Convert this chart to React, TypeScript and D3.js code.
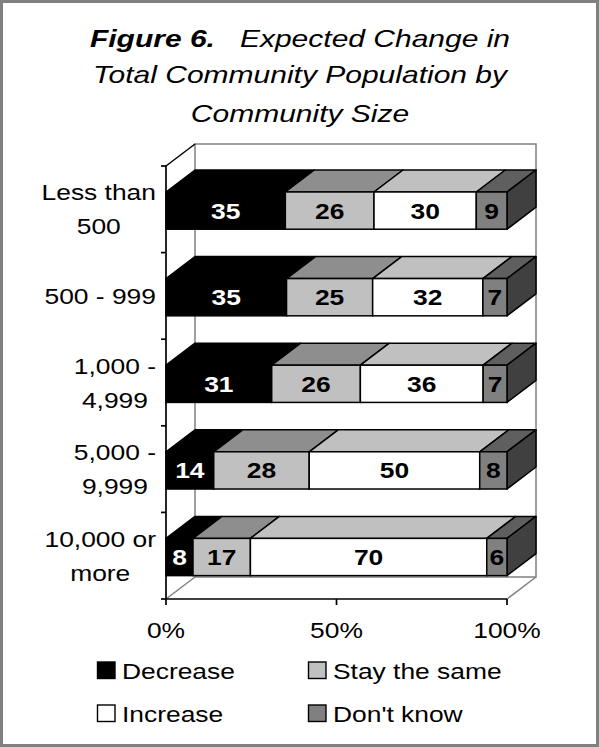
import React from "react";
import * as d3 from "d3";

const categories = ["Less than\n500", "500 - 999", "1,000 -\n4,999", "5,000 -\n9,999", "10,000 or\nmore"];
const seriesNames = ["Decrease", "Stay the same", "Increase", "Don't know"];
const decrease = [35, 35, 31, 14, 8];
const staySame = [26, 25, 26, 28, 17];
const increase = [30, 32, 36, 50, 70];
const dontKnow = [9, 7, 7, 8, 6];
const xTickValues = [0, 0.5, 1];
const xTickLabels = ["0%", "50%", "100%"];
const titleLines = ["Expected Change in", "Total Community Population by", "Community Size"];

const frontColors = ["#000000", "#c0c0c0", "#ffffff", "#808080"];
const topColors = ["#000000", "#8e8e8e", "#c0c0c0", "#5f5f5f"];
const sideColors = ["#000000", "#8e8e8e", "#a0a0a0", "#404040"];
const labelColors = ["#ffffff", "#000000", "#000000", "#000000"];

const W = 599;
const H = 747;
const FONT = "'Liberation Sans', Arial, sans-serif";
const SX = 1.2;
const DX = 29;
const DY = 22;
const SW = 1.5;

function measure(text: string, size: number, weight = "normal") {
  const c = document.createElement("canvas");
  const ctx = c.getContext("2d");
  if (!ctx) return text.length * size * 0.55;
  ctx.font = `${weight} ${size}px 'Liberation Sans', Arial, sans-serif`;
  return ctx.measureText(text).width;
}

function T({ x, y, anchor = "start", size = 22, sx = SX, weight = "normal", fill = "#000", style = "normal", children }: any) {
  return (
    <text
      transform={`translate(${x},${y}) scale(${sx},1)`}
      textAnchor={anchor}
      fontFamily={FONT}
      fontSize={size}
      fontWeight={weight}
      fontStyle={style}
      fill={fill}
      style={{ whiteSpace: "pre" }}
    >
      {children}
    </text>
  );
}

export default function App() {
  const rows = categories.map((c, i) => ({
    cat: c,
    [seriesNames[0]]: decrease[i],
    [seriesNames[1]]: staySame[i],
    [seriesNames[2]]: increase[i],
    [seriesNames[3]]: dontKnow[i],
  }));
  const stacked = d3.stack<any>().keys(seriesNames).offset(d3.stackOffsetExpand)(rows);

  const x = d3.scaleLinear().domain([0, 1]).range([166, 507]);
  const y = d3.scaleBand<string>().domain(categories).range([166, 599]).padding(0);
  const bw = y.bandwidth();
  const frontTop = (c: string) => (y(c) as number) + bw * 0.3;
  const barH = bw * 0.43;

  const x0 = x(0), x1 = x(1);
  const yTop = y.range()[0], yBot = y.range()[1];

  return (
    <svg width={W} height={H} style={{ position: "absolute", left: 0, top: 0, background: "#fff" }}>
      <rect x={1.5} y={1.5} width={W - 3} height={H - 3} fill="#fff" stroke="#808080" strokeWidth={3} />

      {/* Title */}
      <text
        transform={`translate(300,46.7) scale(1.25,1)`}
        textAnchor="middle"
        fontFamily={FONT}
        fontSize={24}
        fontStyle="italic"
        style={{ whiteSpace: "pre" }}
      >
        <tspan fontWeight="bold">Figure 6.</tspan>
        <tspan>{"   " + titleLines[0]}</tspan>
      </text>
      <T x={300} y={83.3} anchor="middle" size={24} sx={1.25} style="italic">{titleLines[1]}</T>
      <T x={300} y={121.7} anchor="middle" size={24} sx={1.25} style="italic">{titleLines[2]}</T>

      {/* Back wall */}
      <rect x={x0 + DX} y={yTop - DY} width={x1 - x0} height={yBot - yTop} fill="#fff" stroke="#808080" strokeWidth={SW} />
      {/* Left wall & floor edges */}
      <line x1={x0} y1={yBot} x2={x0 + DX} y2={yBot - DY} stroke="#808080" strokeWidth={SW} />
      <line x1={x1} y1={yBot} x2={x1 + DX} y2={yBot - DY} stroke="#808080" strokeWidth={SW} />
      <line x1={x0} y1={yTop} x2={x0 + DX} y2={yTop - DY} stroke="#000" strokeWidth={SW} />

      {/* Axes */}
      <line x1={x0} y1={yTop} x2={x0} y2={yBot} stroke="#000" strokeWidth={1.7} />
      <line x1={x0} y1={yBot} x2={x1} y2={yBot} stroke="#000" strokeWidth={1.7} />
      {categories.concat(["__end"]).map((c, i) => {
        const yy = i < categories.length ? (y(c) as number) : yBot;
        return <line key={"yt" + i} x1={x0 - 5} y1={yy} x2={x0} y2={yy} stroke="#000" strokeWidth={1.7} />;
      })}
      {xTickValues.map((v, i) => (
        <g key={"xt" + i}>
          <line x1={x(v)} y1={yBot} x2={x(v)} y2={yBot + 6} stroke="#000" strokeWidth={1.7} />
          <T x={x(v)} y={638} anchor="middle">{xTickLabels[i]}</T>
        </g>
      ))}

      {/* Bars */}
      {categories.map((c, ci) => {
        const ft = frontTop(c);
        const fb = ft + barH;
        return (
          <g key={"bar" + ci}>
            {stacked.map((s, si) => {
              const a = x(s[ci][0]);
              const b = x(s[ci][1]);
              const isLast = si === stacked.length - 1;
              return (
                <g key={si}>
                  <path
                    d={`M${a},${ft}L${b},${ft}L${b + DX},${ft - DY}L${a + DX},${ft - DY}Z`}
                    fill={topColors[si]}
                    stroke="#000"
                    strokeWidth={SW}
                    strokeLinejoin="round"
                  />
                  {isLast && (
                    <path
                      d={`M${b},${ft}L${b + DX},${ft - DY}L${b + DX},${fb - DY}L${b},${fb}Z`}
                      fill={sideColors[si]}
                      stroke="#000"
                      strokeWidth={SW}
                      strokeLinejoin="round"
                    />
                  )}
                  <rect x={a} y={ft} width={b - a} height={barH} fill={frontColors[si]} stroke="#000" strokeWidth={SW} />
                </g>
              );
            })}
            {stacked.map((s, si) => {
              const a = x(s[ci][0]);
              const b = x(s[ci][1]);
              const val = (rows[ci] as any)[seriesNames[si]];
              return (
                <T key={"l" + si} x={(a + b) / 2} y={ft + barH / 2 + 8} anchor="middle" weight="bold" fill={labelColors[si]}>
                  {String(val)}
                </T>
              );
            })}
          </g>
        );
      })}

      {/* Category labels */}
      {categories.map((c, ci) => {
        const lines = c.split("\n");
        const maxW = Math.max(...lines.map((l) => measure(l, 22) * SX));
        const cx = 156 - maxW / 2;
        const cy = (y(c) as number) + bw / 2;
        return (
          <g key={"cl" + ci}>
            {lines.map((l, li) => (
              <T key={li} x={cx} y={cy + 8 + (li - (lines.length - 1) / 2) * 34} anchor="middle">
                {l}
              </T>
            ))}
          </g>
        );
      })}

      {/* Legend */}
      {seriesNames.map((n, i) => {
        const col = i % 2;
        const row = Math.floor(i / 2);
        const lx = col === 0 ? 97.5 : 308.5;
        const ly = row === 0 ? 662 : 705;
        return (
          <g key={"lg" + i}>
            <rect x={lx} y={ly} width={17.5} height={16.5} fill={frontColors[i]} stroke="#000" strokeWidth={1.4} />
            <T x={lx + 24.5} y={ly + 17}>{n}</T>
          </g>
        );
      })}
    </svg>
  );
}
